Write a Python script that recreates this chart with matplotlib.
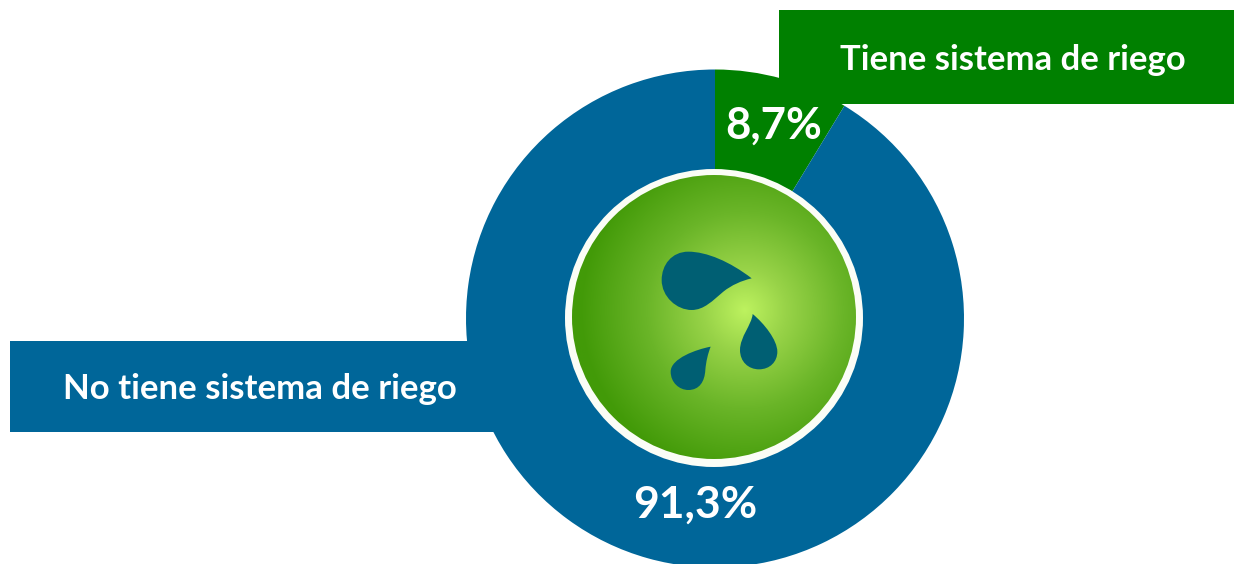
import numpy as np
import matplotlib
matplotlib.use('Agg')
import matplotlib.pyplot as plt
from matplotlib.patches import Circle, PathPatch, Rectangle
from matplotlib.path import Path
from matplotlib.colors import LinearSegmentedColormap

# data
categories = ['Tiene sistema de riego', 'No tiene sistema de riego']
values = [8.7, 91.3]
value_labels = ['8,7%', '91,3%']

# colours
green = '#008000'
blue = '#006699'
drop_color = '#005f73'

W, H = 1234, 564
plt.rcParams['font.family'] = ['Lato', 'DejaVu Sans']

fig = plt.figure(figsize=(W / 100, H / 100), dpi=100)
ax = fig.add_axes([0, 0, 1, 1])


def py(y):
    # picture rows run downwards, the axes run upwards
    return H - y


# donut
ax.pie(values, colors=[green, blue], startangle=90, counterclock=False,
       center=(715, py(318.5)), radius=249,
       wedgeprops={'width': 110, 'linewidth': 0})

ax.set_xlim(0, W)
ax.set_ylim(0, H)
ax.set_aspect('equal')
ax.axis('off')

# label boxes
ax.add_patch(Rectangle((779, py(104)), 455, 94, color=green, lw=0, zorder=3))
ax.add_patch(Rectangle((10, py(432)), 490, 91, color=blue, lw=0, zorder=3))

ax.text(1013, py(60), categories[0], color='white', fontsize=24.9, fontweight='bold',
        ha='center', va='center', zorder=4)
ax.text(260, py(389), categories[1], color='white', fontsize=25, fontweight='bold',
        ha='center', va='center', zorder=4)

# percent labels
ax.text(774, py(126), value_labels[0], color='white', fontsize=31.5, fontweight='bold',
        ha='center', va='center', zorder=4)
ax.text(695, py(505), value_labels[1], color='white', fontsize=32, fontweight='bold',
        ha='center', va='center', zorder=4)

# centre disc
ax.add_patch(Circle((714, py(318)), 149, color='#fbfdf6', lw=0, zorder=5))
disc = Circle((714, py(317)), 142, color='none', lw=0, zorder=6)
ax.add_patch(disc)

cmap = LinearSegmentedColormap.from_list('disc', [(0, '#bdf25f'), (0.25, '#98d348'),
                                                  (0.6, '#6ab528'), (1, '#429a08')])
xx, yy = np.meshgrid(np.linspace(570, 860, 300), np.linspace(170, 465, 300))
rr = np.hypot(xx - 745, yy - 310) / 165
img = ax.imshow(rr, cmap=cmap, vmin=0, vmax=1, extent=(570, 860, py(465), py(170)),
                origin='upper', zorder=6, interpolation='bilinear')
img.set_clip_path(disc)
ax.set_xlim(0, W)
ax.set_ylim(0, H)


def drop(points):
    # points are cubic segments in pixels of the picture
    verts = [(560 + x / 3, py(160 + y / 3)) for x, y in points]
    codes = [Path.MOVETO] + [Path.CURVE4] * (len(points) - 1)
    ax.add_patch(PathPatch(Path(verts, codes), facecolor=drop_color, lw=0, zorder=7))


drop([(575, 355), (510, 305), (440, 275), (385, 275),
      (335, 275), (305, 315), (305, 360),
      (305, 410), (350, 450), (395, 450),
      (432, 450), (458, 422), (490, 395),
      (515, 375), (545, 362), (575, 355)])
drop([(578, 462), (575, 495), (540, 530), (540, 570),
      (540, 605), (565, 628), (597, 628),
      (630, 628), (652, 605), (652, 575),
      (652, 540), (612, 490), (578, 462)])
drop([(452, 560), (410, 568), (332, 595), (332, 635),
      (332, 668), (358, 690), (385, 690),
      (418, 690), (434, 665), (436, 630),
      (438, 605), (444, 580), (452, 560)])

fig.savefig('out.png', dpi=100, facecolor='white')
